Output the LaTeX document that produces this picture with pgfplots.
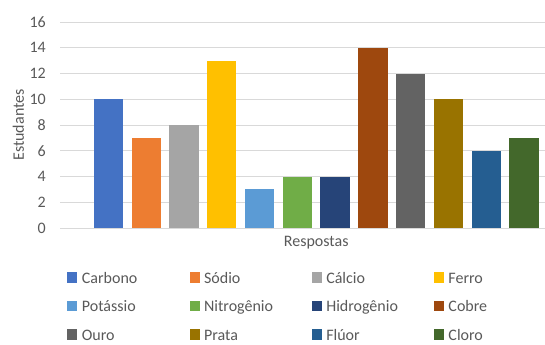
\documentclass[border=0pt]{standalone}
\usepackage{fontspec}
\setmainfont{Carlito}
\usepackage{pgfplots}
\pgfplotsset{compat=1.18}

\definecolor{txt}{HTML}{595959}
\definecolor{gridc}{HTML}{D9D9D9}
\definecolor{c1}{HTML}{4472C4}
\definecolor{c2}{HTML}{ED7D31}
\definecolor{c3}{HTML}{A5A5A5}
\definecolor{c4}{HTML}{FFC000}
\definecolor{c5}{HTML}{5B9BD5}
\definecolor{c6}{HTML}{70AD47}
\definecolor{c7}{HTML}{264478}
\definecolor{c8}{HTML}{9E480E}
\definecolor{c9}{HTML}{636363}
\definecolor{c10}{HTML}{997300}
\definecolor{c11}{HTML}{255E91}
\definecolor{c12}{HTML}{43682B}

\pgfplotsset{
  mybar/.style={ybar, bar width=0.776, bar shift=0pt, fill=#1, draw=none,
    legend image code/.code={\fill[##1] (0bp,-5.25bp) rectangle (10bp,5.25bp);}},
}
% legend text: fixed-size strut centred on the cap height
\newcommand{\entry}[1]{\addlegendentry{\hspace*{4.4bp}\makebox[107.8bp][l]{\rule[-2.5bp]{0pt}{15.5bp}#1}}}

\begin{document}
\begin{tikzpicture}
\path[use as bounding box] (-60bp,-117bp) rectangle (485bp,228bp);
\begin{axis}[
  scale only axis, width=485bp, height=206bp,
  ymin=0, ymax=16, ytick={0,2,...,16},
  xmin=-1.284, xmax=11.557,
  xtick={5.5}, xticklabels={Respostas},
  ymajorgrids, grid style={gridc, line width=0.75bp},
  axis line style={draw=none}, major tick length=0pt,
  /pgf/number format/assume math mode=true,
  tick label style={font=\fontsize{16bp}{19bp}\selectfont, text=txt},
  yticklabel style={anchor=east, inner sep=0pt, xshift=-14bp},
  xticklabel style={anchor=base, inner sep=0pt, yshift=-18.7bp},
  ylabel={Estudantes},
  ylabel style={at={(axis description cs:-0.0856,0.5)}, anchor=center,
    font=\fontsize{16bp}{19bp}\selectfont, text=txt},
  legend columns=4,
  legend cell align=left,
  legend style={draw=none, fill=none, at={(axis description cs:0.01505,-0.2039)},
    anchor=north west, inner sep=0pt, column sep=0pt, row sep=14bp,
    font=\fontsize{16bp}{19bp}\selectfont, text=txt, nodes={inner sep=0pt}},
]
\addplot[mybar=c1]  coordinates {(0,10)};  \entry{Carbono}
\addplot[mybar=c2]  coordinates {(1,7)};   \entry{Sódio}
\addplot[mybar=c3]  coordinates {(2,8)};   \entry{Cálcio}
\addplot[mybar=c4]  coordinates {(3,13)};  \entry{Ferro}
\addplot[mybar=c5]  coordinates {(4,3)};   \entry{Potássio}
\addplot[mybar=c6]  coordinates {(5,4)};   \entry{Nitrogênio}
\addplot[mybar=c7]  coordinates {(6,4)};   \entry{Hidrogênio}
\addplot[mybar=c8]  coordinates {(7,14)};  \entry{Cobre}
\addplot[mybar=c9]  coordinates {(8,12)};  \entry{Ouro}
\addplot[mybar=c10] coordinates {(9,10)};  \entry{Prata}
\addplot[mybar=c11] coordinates {(10,6)};  \entry{Flúor}
\addplot[mybar=c12] coordinates {(11,7)};  \entry{Cloro}
\end{axis}
\end{tikzpicture}
\end{document}
